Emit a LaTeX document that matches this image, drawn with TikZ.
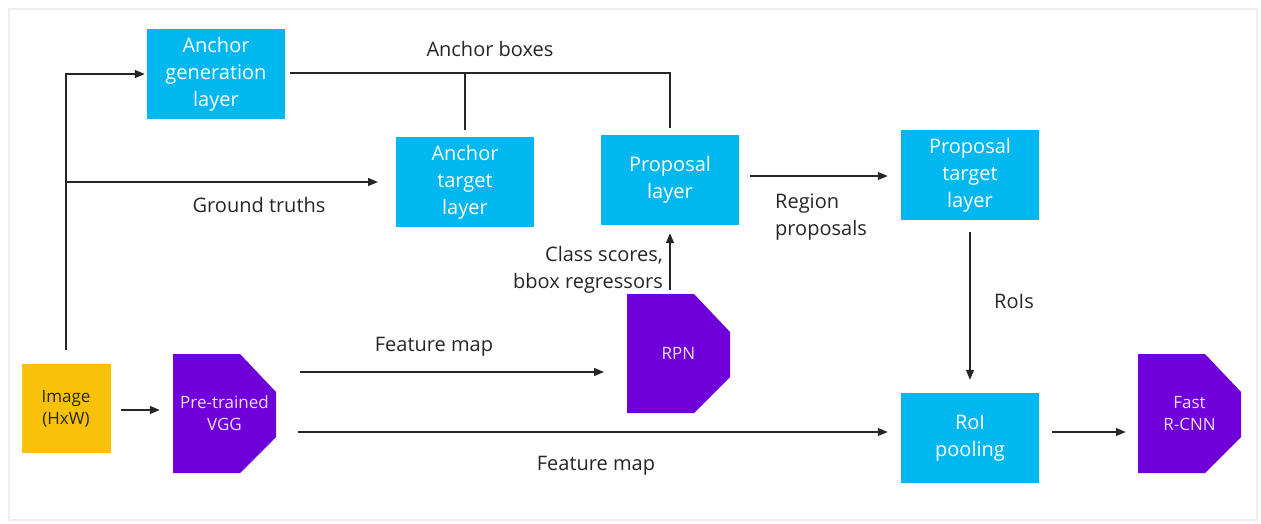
\documentclass[tikz,border=0pt]{standalone}
\usepackage{fontspec}
\setmainfont{Open Sans}
\usetikzlibrary{arrows.meta}
\definecolor{boxblue}{HTML}{00B7EF}
\definecolor{netpurple}{HTML}{7000DA}
\definecolor{imgyellow}{HTML}{FAC10A}
\definecolor{frame}{HTML}{EEEEEE}
\tikzset{
  layer/.style={fill=boxblue, text=white, minimum width=138pt, minimum height=90pt,
    inner sep=0pt, align=center, font=\fontsize{20}{27}\selectfont},
  net/.style={minimum width=103pt, minimum height=119pt, inner sep=0pt, align=center,
    text=white!88!netpurple, font=\fontsize{17}{22}\selectfont,
    path picture={\fill[netpurple]
      (path picture bounding box.north west)
      -- ([xshift=-36pt]path picture bounding box.north east)
      -- ([yshift=-38pt]path picture bounding box.north east)
      -- ([yshift=36pt]path picture bounding box.south east)
      -- ([xshift=-36pt]path picture bounding box.south east)
      -- (path picture bounding box.south west) -- cycle;}},
  lbl/.style={inner sep=0pt, font=\fontsize{20}{27}\selectfont, text=black!85},
  flow/.style={line width=1.2pt, draw=black!85, -{Triangle[length=10pt,width=8pt]}},
  wire/.style={line width=1.2pt, draw=black!85},
}
\begin{document}
\begin{tikzpicture}[x=1pt,y=-1pt]
\useasboundingbox (0,0) rectangle (1261,523);
\draw[frame, line width=1.5pt] (9,9) rectangle (1257,520);

% layers
\node[layer] (agen) at (216,74) {Anchor\\generation\\layer};
\node[layer] (atgt) at (465,182) {Anchor\\target\\layer};
\node[layer] (prop) at (670,180) {Proposal\\layer};
\node[layer] (ptgt) at (970,175) {Proposal\\target\\layer};
\node[layer] (roi) at (970,438) {RoI\\pooling};

% input image and networks
\node[fill=imgyellow, minimum width=89pt, minimum height=89pt, inner sep=0pt,
  align=center, text=black!85, font=\fontsize{17}{22}\selectfont] (img) at (66,408.5) {Image\\(HxW)};
\node[net] (vgg) at (224.5,413.5) {Pre-trained\\VGG};
\node[net] (rpn) at (678.5,353.5) {RPN};
\node[net] (frcnn) at (1189.5,413.5) {Fast\\R-CNN};

% connector end points
\coordinate (imgup) at (66,350);
\coordinate (gtstart) at (66,182);
\coordinate (gtend) at (378,182);
\coordinate (abjoin) at (465,73);
\coordinate (fm1start) at (300,372);
\coordinate (fm1end) at (604,372);
\coordinate (fm2start) at (298,432);

% image branch to anchor generation and ground truths
\draw[flow] (imgup) |- ([xshift=-2pt]agen.west);
\draw[flow] (gtstart) -- (gtend);
\node[lbl] (gtlbl) at (259,205) {Ground truths};

% anchor boxes
\draw[wire] ([xshift=5pt,yshift=1pt]agen.east) -| ([yshift=7pt]prop.north);
\draw[wire] (abjoin) -- ([yshift=7pt]atgt.north);
\node[lbl] (ablbl) at (490,49) {Anchor boxes};

% proposal path
\draw[flow] ([xshift=11pt,yshift=4pt]prop.east) -- ([xshift=-13pt,yshift=-1pt]ptgt.west);
\node[lbl, align=left, anchor=west] (rplbl) at (775,217) {Region\\proposals};
\draw[flow] ([yshift=-12pt]ptgt.south) -- ([yshift=13pt]roi.north);
\node[lbl] (roilbl) at (1014,301) {RoIs};

% RPN to proposal layer
\draw[flow] ([xshift=-8.5pt,yshift=4pt]rpn.north) -- ([yshift=-8pt]prop.south);
\node[lbl, align=right, anchor=east] (cslbl) at (663,270) {Class scores,\\bbox regressors};

% image to VGG
\draw[flow] ([xshift=10pt,yshift=-1.5pt]img.east) -- ([xshift=-13pt,yshift=3.5pt]vgg.west);

% feature maps
\draw[flow] (fm1start) -- (fm1end);
\node[lbl] (fm1) at (434,347) {Feature map};
\draw[flow] (fm2start) -- ([xshift=-13pt,yshift=6pt]roi.west);
\node[lbl] (fm2) at (596,466) {Feature map};

% RoI pooling to Fast R-CNN
\draw[flow] ([xshift=13pt,yshift=6pt]roi.east) -- ([xshift=-12pt,yshift=-18.5pt]frcnn.west);
\end{tikzpicture}
\end{document}
